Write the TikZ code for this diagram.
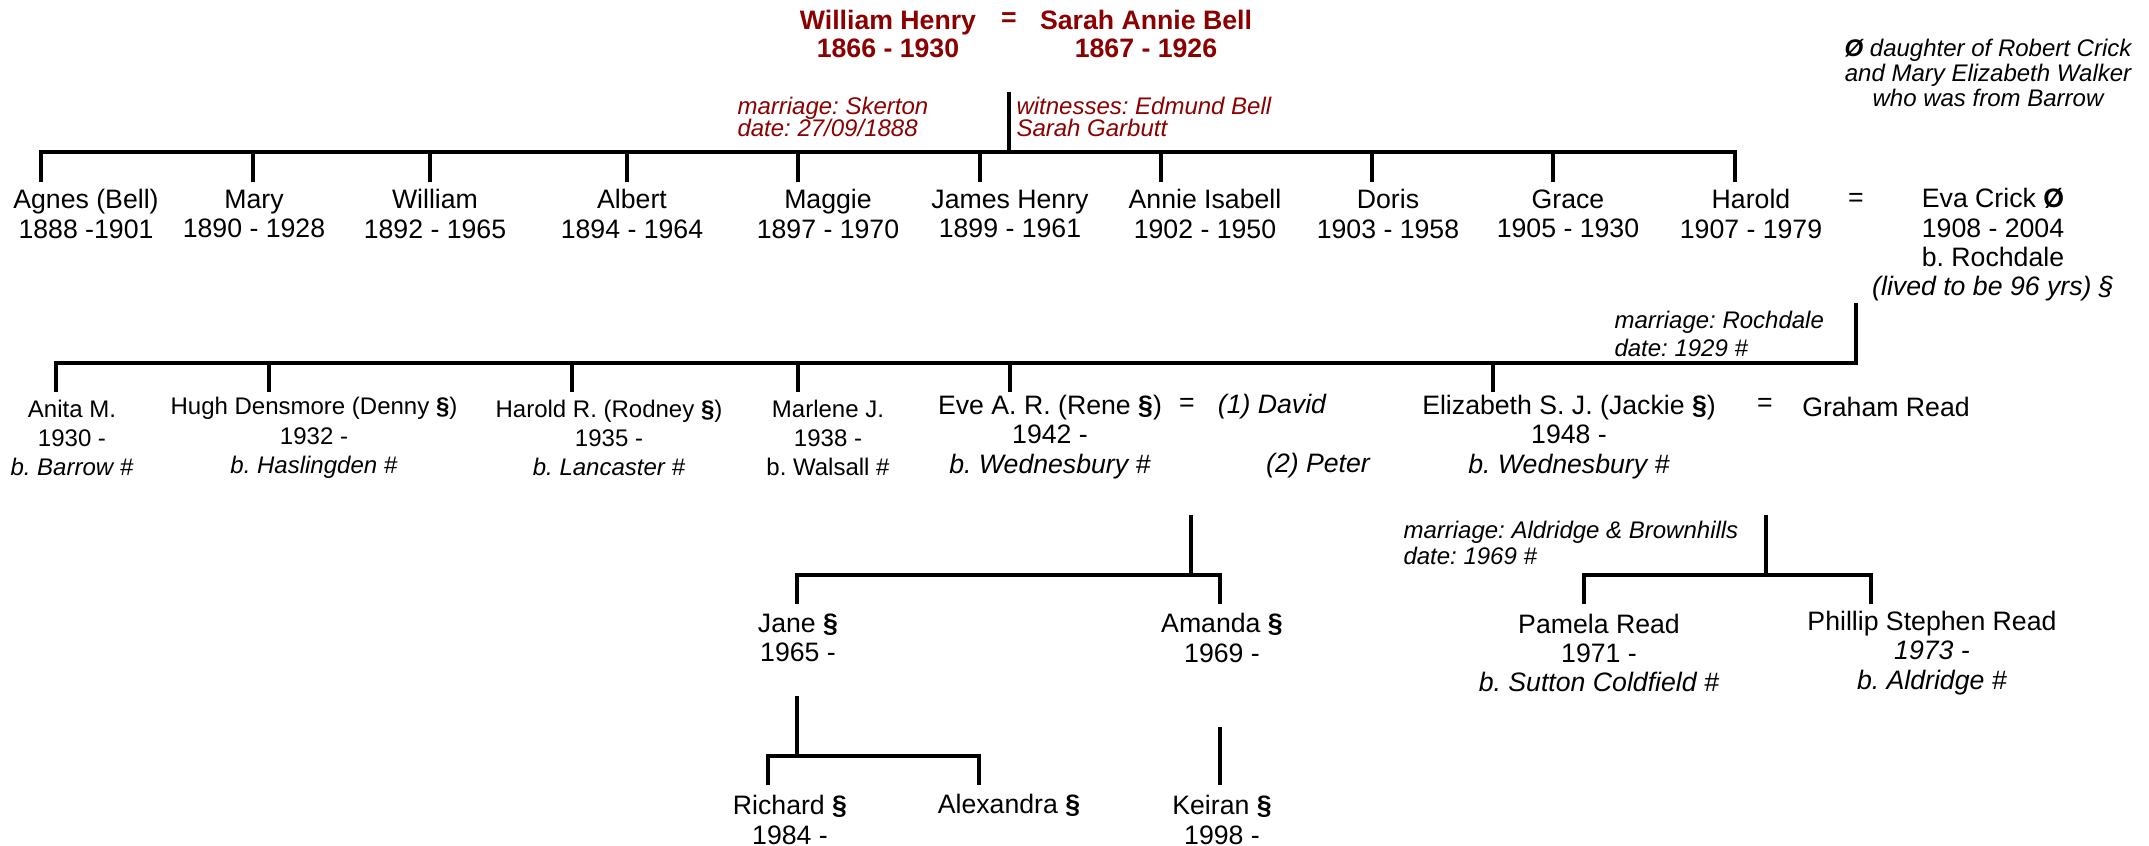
\documentclass[tikz,border=0pt]{standalone}
\usepackage{fontspec}
\setmainfont{Liberation Sans}
\frenchspacing
\setlength{\lineskiplimit}{-100pt}
\definecolor{headred}{RGB}{139,0,0}

\tikzset{every picture/.style={line width=0.75pt}}
\tikzset{
  person/.style={align=center, inner sep=0pt, font=\fontsize{20}{22}\selectfont},
  smallperson/.style={align=center, inner sep=0pt, font=\fontsize{18}{22}\selectfont},
  headname/.style={align=center, inner sep=0pt, text=headred, font=\bfseries\fontsize{20}{21}\selectfont},
  note/.style={align=left, anchor=west, inner sep=0pt, font=\itshape\fontsize{18}{21}\selectfont},
  eqsign/.style={inner sep=0pt, font=\fontsize{20}{22}\selectfont},
  tree/.style={line width=3pt},
}

\begin{document}
\begin{tikzpicture}[x=0.75pt,y=0.75pt,yscale=-1,xscale=1]
  \useasboundingbox (0,0) rectangle (2149,846);

  % William Henry = Sarah Annie Bell
  \node[headname] (wh) at (888,34) {William Henry\\1866 - 1930};
  \node[eqsign, headred, font=\bfseries\fontsize{20}{22}\selectfont] (eqA) at (1009,20) {=};
  \node[headname] (sab) at (1146,34) {Sarah Annie Bell\\1867 - 1926};
  \node[note, text=headred, font=\itshape\fontsize{18}{16.5}\selectfont] (mSkerton) at (737,117) {marriage: Skerton\\date: 27/09/1888};
  \node[note, text=headred, font=\itshape\fontsize{18}{16.5}\selectfont] (wSkerton) at (1016,117) {witnesses: Edmund Bell\\Sarah Garbutt};
  \node[note, align=center, anchor=center, font=\itshape\fontsize{18}{19}\selectfont] (evaNote) at (1988,73) {\textbf{Ø} daughter of Robert Crick\\and Mary Elizabeth Walker\\who was from Barrow};

  % their children
  \node[person] (agnes) at (86,214) {Agnes (Bell)\\1888 -1901};
  \node[person] (mary) at (254,214) {Mary\\1890 - 1928};
  \node[person] (william) at (435,214) {William\\1892 - 1965};
  \node[person] (albert) at (632,214) {Albert\\1894 - 1964};
  \node[person] (maggie) at (828,214) {Maggie\\1897 - 1970};
  \node[person] (james) at (1010,214) {James Henry\\1899 - 1961};
  \node[person] (annie) at (1205,214) {Annie Isabell\\1902 - 1950};
  \node[person] (doris) at (1388,214) {Doris\\1903 - 1958};
  \node[person] (grace) at (1568,214) {Grace\\1905 - 1930};
  \node[person] (harold) at (1751,214) {Harold\\1907 - 1979};
  \node[eqsign] (eqB) at (1856,200) {=};
  \node[person] (eva) at (1993,245) {Eva Crick \textbf{Ø}\\1908 - 2004\\b. Rochdale\\\textit{(lived to be 96 yrs) §}};

  \coordinate (wedA) at (1009,92);
  \coordinate (barA) at (41,152);
  \coordinate (agnesTop) at (41,182);
  \coordinate (maryTop) at (253,182);
  \coordinate (williamTop) at (430,182);
  \coordinate (albertTop) at (627,182);
  \coordinate (maggieTop) at (798,182);
  \coordinate (jamesTop) at (980,182);
  \coordinate (annieTop) at (1161,182);
  \coordinate (dorisTop) at (1372,182);
  \coordinate (graceTop) at (1553,182);
  \coordinate (haroldTop) at (1735,182);

  \draw[tree] (wedA) -- (wedA |- barA);
  \draw[tree] (agnesTop) -- (agnesTop |- barA) -- (haroldTop |- barA) -- (haroldTop);
  \draw[tree] (maryTop) -- (maryTop |- barA);
  \draw[tree] (williamTop) -- (williamTop |- barA);
  \draw[tree] (albertTop) -- (albertTop |- barA);
  \draw[tree] (maggieTop) -- (maggieTop |- barA);
  \draw[tree] (jamesTop) -- (jamesTop |- barA);
  \draw[tree] (annieTop) -- (annieTop |- barA);
  \draw[tree] (dorisTop) -- (dorisTop |- barA);
  \draw[tree] (graceTop) -- (graceTop |- barA);

  % Harold = Eva Crick
  \node[note, font=\itshape\fontsize{18}{21}\selectfont] (mRochdale) at (1614,334) {marriage: Rochdale\\date: 1929 \#};
  \node[smallperson] (anita) at (72,438) {Anita M.\\1930 -\\\textit{b. Barrow \#}};
  \node[smallperson] (hugh) at (314,438) {Hugh Densmore (Denny \textbf{§})\\1932 -\\\textit{b. Haslingden \#}};
  \node[smallperson] (haroldr) at (609,438) {Harold R. (Rodney \textbf{§})\\1935 -\\\textit{b. Lancaster \#}};
  \node[smallperson] (marlene) at (828,438) {Marlene J.\\1938 -\\b. Walsall \#};
  \node[person] (eve) at (1050,437) {Eve A. R. (Rene \textbf{§})\\1942 -\\\textit{b. Wednesbury \#}};
  \node[eqsign] (eqC) at (1187,405) {=};
  \node[person, font=\itshape\fontsize{20}{22}\selectfont] (david) at (1272,407) {(1) David};
  \node[person, font=\itshape\fontsize{20}{22}\selectfont] (peter) at (1318,466) {(2) Peter};
  \node[person] (elizabeth) at (1569,437) {Elizabeth S. J. (Jackie \textbf{§})\\1948 -\\\textit{b. Wednesbury \#}};
  \node[eqsign] (eqD) at (1765,405) {=};
  \node[person] (graham) at (1886,407) {Graham Read};

  \coordinate (wedB) at (1856,303);
  \coordinate (barB) at (56,363);
  \coordinate (anitaTop) at (56,392);
  \coordinate (hughTop) at (269,392);
  \coordinate (haroldrTop) at (572,392);
  \coordinate (marleneTop) at (798,392);
  \coordinate (eveTop) at (1010,392);
  \coordinate (elizabethTop) at (1493,392);

  \draw[tree] (anitaTop) -- (anitaTop |- barB) -- (wedB |- barB) -- (wedB);
  \draw[tree] (hughTop) -- (hughTop |- barB);
  \draw[tree] (haroldrTop) -- (haroldrTop |- barB);
  \draw[tree] (marleneTop) -- (marleneTop |- barB);
  \draw[tree] (eveTop) -- (eveTop |- barB);
  \draw[tree] (elizabethTop) -- (elizabethTop |- barB);

  % Eve's line
  \node[person] (jane) at (798,638) {Jane \textbf{§}\\1965 -};
  \node[person] (amanda) at (1222,638) {Amanda \textbf{§}\\1969 -};
  \node[person] (richard) at (790,820) {Richard \textbf{§}\\1984 -};
  \node[person] (alexandra) at (1009,805) {Alexandra \textbf{§}};
  \node[person] (keiran) at (1222,820) {Keiran \textbf{§}\\1998 -};

  \coordinate (wedC) at (1191,515);
  \coordinate (barC) at (797,575);
  \coordinate (janeTop) at (797,604);
  \coordinate (amandaTop) at (1220,604);
  \draw[tree] (wedC) -- (wedC |- barC);
  \draw[tree] (janeTop) -- (janeTop |- barC) -- (amandaTop |- barC) -- (amandaTop);

  \coordinate (wedD) at (797,696);
  \coordinate (barD) at (768,756);
  \coordinate (richardTop) at (768,785);
  \coordinate (alexandraTop) at (979,785);
  \draw[tree] (wedD) -- (wedD |- barD);
  \draw[tree] (richardTop) -- (richardTop |- barD) -- (alexandraTop |- barD) -- (alexandraTop);

  \coordinate (wedE) at (1220,727);
  \coordinate (keiranTop) at (1220,785);
  \draw[tree] (wedE) -- (keiranTop);

  % Elizabeth = Graham Read
  \node[note, font=\itshape\fontsize{18}{20}\selectfont] (mAldridge) at (1403,543) {marriage: Aldridge \& Brownhills\\date: 1969 \#};
  \node[person] (pamela) at (1599,653) {Pamela Read\\1971 -\\\textit{b. Sutton Coldfield \#}};
  \node[person] (phillip) at (1932,653) {Phillip Stephen Read\\\textit{1973 -}\\\textit{b. Aldridge \#}};

  \coordinate (wedF) at (1766,515);
  \coordinate (barF) at (1584,575);
  \coordinate (pamelaTop) at (1584,604);
  \coordinate (phillipTop) at (1871,604);
  \draw[tree] (wedF) -- (wedF |- barF);
  \draw[tree] (pamelaTop) -- (pamelaTop |- barF) -- (phillipTop |- barF) -- (phillipTop);

\end{tikzpicture}
\end{document}
